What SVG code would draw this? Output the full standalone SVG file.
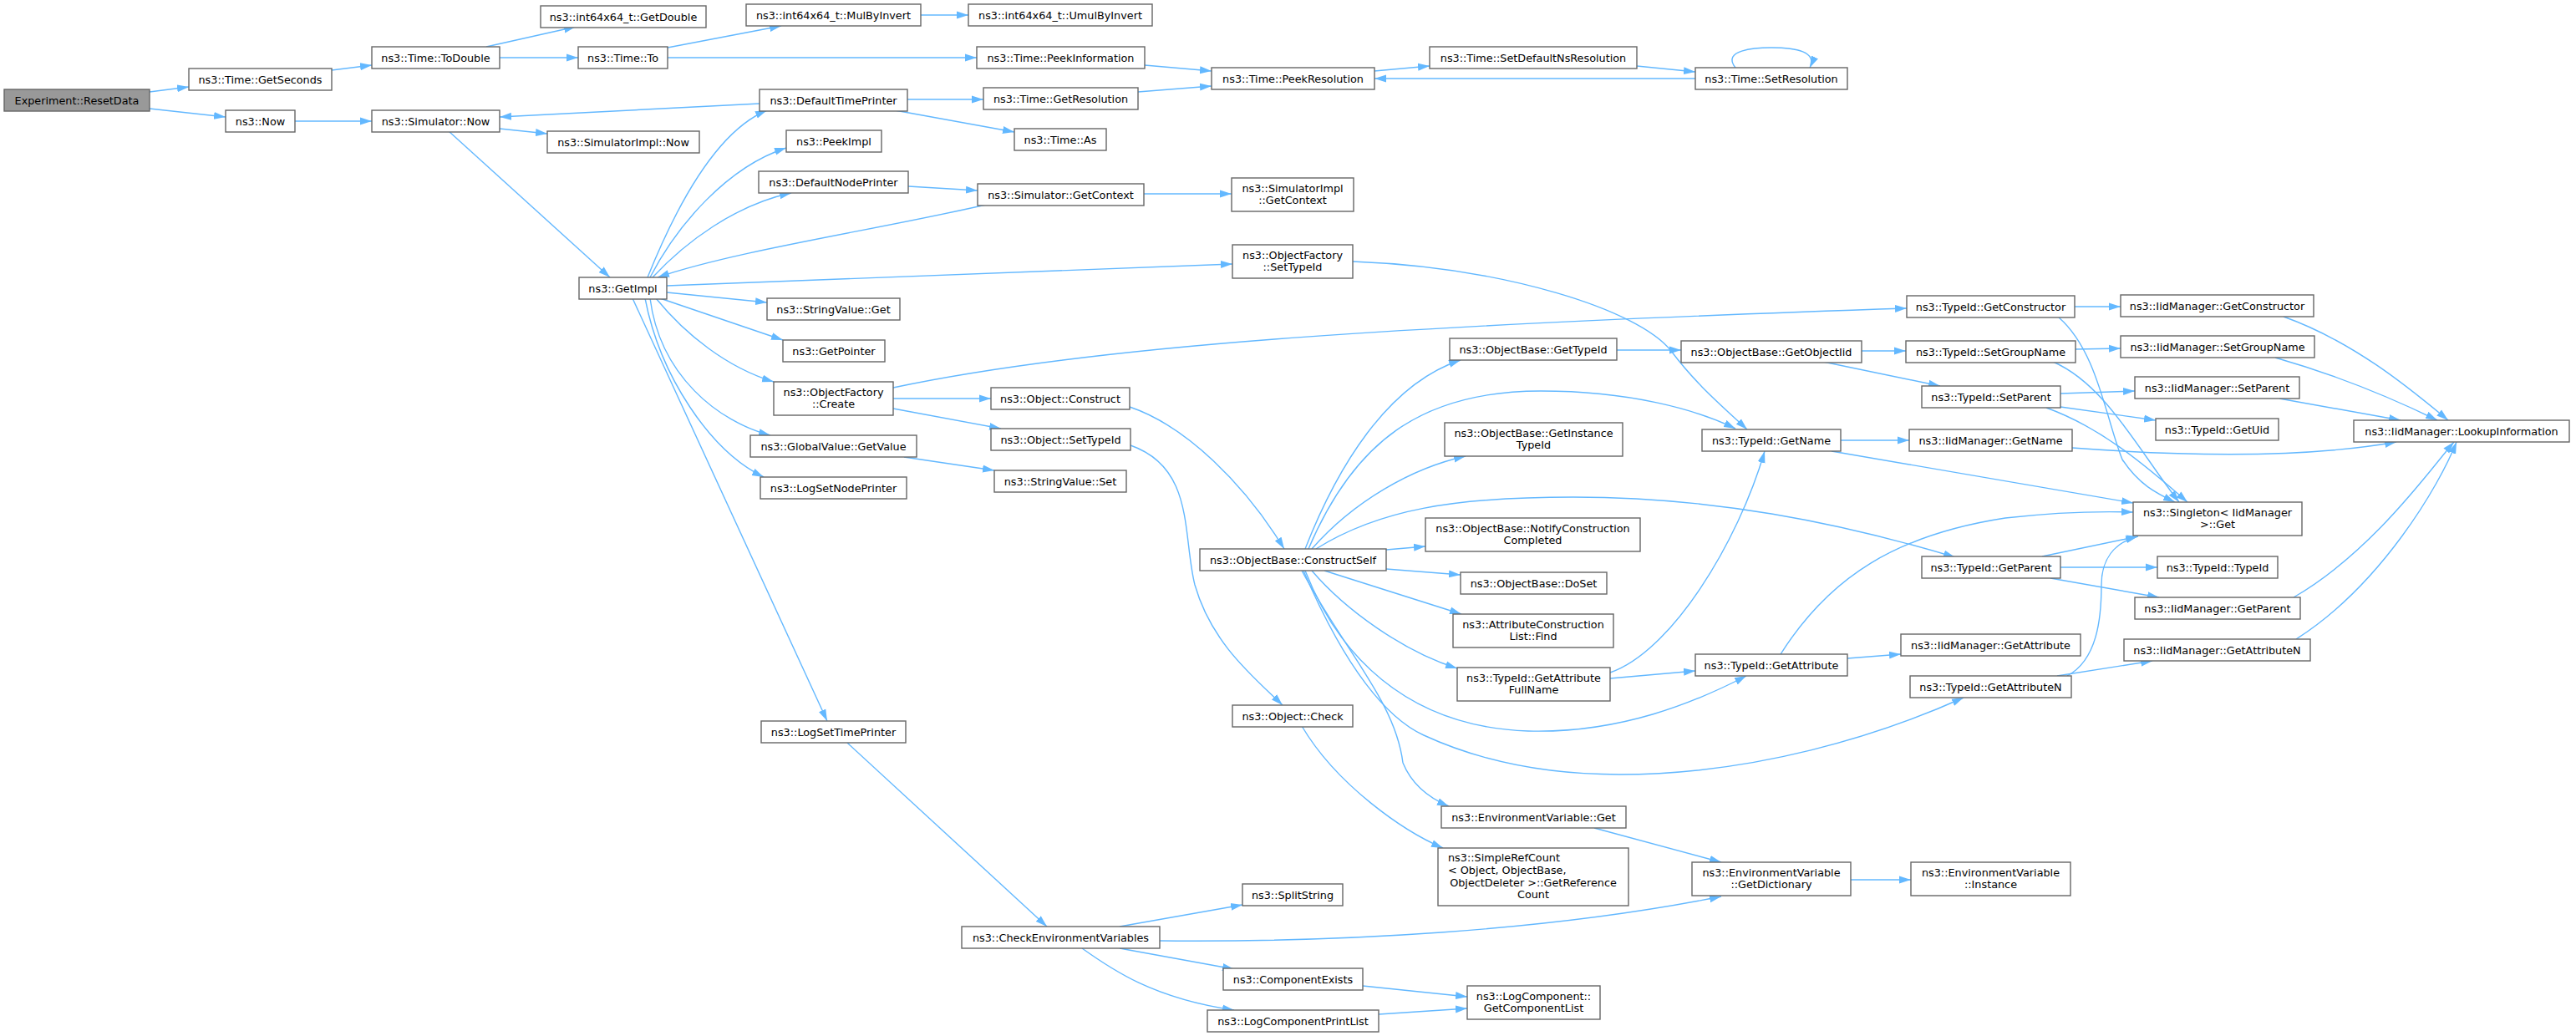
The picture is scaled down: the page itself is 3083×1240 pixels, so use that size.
<svg xmlns="http://www.w3.org/2000/svg" width="3083" height="1240" viewBox="0 0 3083 1240">
<style>
.n rect{fill:#ffffff;stroke:#666666;stroke-width:1.4}
.root rect{fill:#999999}
text{font-family:"DejaVu Sans","Liberation Sans",sans-serif;font-size:12.8px;fill:#000000;text-anchor:middle}
text.l{text-anchor:start}
.e path{fill:none;stroke:#63b8ff;stroke-width:1.4;marker-end:url(#a)}
</style>
<defs>
<marker id="a" markerWidth="14" markerHeight="10" refX="14" refY="5" orient="auto" markerUnits="userSpaceOnUse"><path d="M0,0.5 L14,5 L0,9.5 z" fill="#63b8ff"/></marker>
</defs>
<rect width="3083" height="1240" fill="#ffffff"/>
<g id="edges" class="e">
<path d="M179,110 L226,104"/>
<path d="M179,130 L270,140"/>
<path d="M397,84 L445,78"/>
<path d="M582,56 L689,32"/>
<path d="M598,69 L692,69"/>
<path d="M353,145 L445,145"/>
<path d="M598,154 L655,160"/>
<path d="M537,157 L730,332"/>
<path d="M909,124 L598,140"/>
<path d="M799,57 L935,31"/>
<path d="M799,69 L1169,69"/>
<path d="M1102,18 L1159,18"/>
<path d="M1370,78 L1450,85"/>
<path d="M1362,110 L1450,103"/>
<path d="M1086,119 L1177,119"/>
<path d="M1071,132 L1214,158"/>
<path d="M775,332 C800,270 850,160 918,132"/>
<path d="M778,332 C810,270 870,200 941,177"/>
<path d="M781,332 C820,290 880,245 947,231"/>
<path d="M1180,245 C1050,275 880,300 787,332"/>
<path d="M1087,223 L1170,228"/>
<path d="M1369,232 L1474,232"/>
<path d="M798,342 L1475,316"/>
<path d="M798,350 L918,362"/>
<path d="M790,357 L937,407"/>
<path d="M785,357 C820,400 870,440 926,457"/>
<path d="M778,357 C790,450 860,505 922,521"/>
<path d="M772,357 C790,450 850,540 914,571"/>
<path d="M757,357 L990,863"/>
<path d="M1069,464 C1300,415 1650,390 2282,369"/>
<path d="M1069,477 L1186,477"/>
<path d="M1069,489 L1198,513"/>
<path d="M1082,547 L1190,563"/>
<path d="M1352,487 C1420,510 1490,580 1537,657"/>
<path d="M1353,533 C1430,560 1415,640 1430,700 C1450,770 1500,810 1535,844"/>
<path d="M1619,313 C1800,320 1960,370 2000,420 C2030,460 2060,485 2091,514"/>
<path d="M1562,657 C1600,560 1660,460 1748,431"/>
<path d="M1566,657 C1620,530 1700,468 1844,468 C1950,468 2030,490 2077,513"/>
<path d="M1570,657 C1620,600 1690,560 1754,546"/>
<path d="M1575,657 C1650,610 1740,595 1883,595 C2050,595 2200,625 2340,667"/>
<path d="M1659,658 L1706,654"/>
<path d="M1659,681 L1748,688"/>
<path d="M1585,683 L1749,735"/>
<path d="M1570,683 C1610,730 1680,780 1744,800"/>
<path d="M1562,683 C1600,780 1680,870 1829,875 C1940,878 2030,840 2090,809"/>
<path d="M1560,683 C1610,800 1660,860 1704,880 C1780,915 1860,927 1938,927 C2100,927 2250,880 2350,835"/>
<path d="M1558,683 C1610,780 1670,840 1679,913 C1690,940 1710,955 1734,965"/>
<path d="M1927,805 C2000,780 2080,650 2112,540"/>
<path d="M1927,812 L2029,803"/>
<path d="M1558,869 C1600,940 1680,995 1727,1015"/>
<path d="M1908,991 L2060,1032"/>
<path d="M1388,1126 C1600,1128 1850,1115 2060,1073"/>
<path d="M2215,1053 L2287,1053"/>
<path d="M1014,889 L1253,1109"/>
<path d="M1340,1109 L1487,1083"/>
<path d="M1340,1135 L1477,1160"/>
<path d="M1295,1135 C1330,1160 1380,1195 1477,1209"/>
<path d="M1631,1180 L1756,1193"/>
<path d="M1650,1214 L1756,1207"/>
<path d="M1935,419 L2012,419"/>
<path d="M2228,420 L2281,420"/>
<path d="M2182,433 L2322,462"/>
<path d="M2203,527 L2285,527"/>
<path d="M2192,540 L2553,602"/>
<path d="M2211,788 L2275,783"/>
<path d="M2131,783 C2190,690 2270,640 2400,620 C2470,612 2520,612 2553,613"/>
<path d="M2462,809 L2576,791"/>
<path d="M2474,809 C2510,790 2515,740 2515,700 C2515,670 2530,650 2558,642"/>
<path d="M2444,666 L2559,642"/>
<path d="M2466,679 L2582,679"/>
<path d="M2454,692 L2584,715"/>
<path d="M2484,418 L2538,417"/>
<path d="M2457,433 C2520,460 2560,540 2608,601"/>
<path d="M2466,471 L2555,468"/>
<path d="M2466,487 L2580,503"/>
<path d="M2449,488 C2510,510 2560,550 2618,601"/>
<path d="M2464,380 C2510,420 2520,500 2540,550 C2560,580 2580,590 2603,601"/>
<path d="M2483,367 L2538,367"/>
<path d="M2733,379 C2820,410 2890,470 2930,503"/>
<path d="M2723,428 C2800,450 2870,480 2917,503"/>
<path d="M2728,477 L2873,503"/>
<path d="M2480,536 C2600,545 2750,550 2868,529"/>
<path d="M2745,715 C2840,660 2910,560 2937,529"/>
<path d="M2748,765 C2850,700 2920,580 2940,529"/>
<path d="M1645,85 L1711,79"/>
<path d="M1959,79 L2029,86"/>
<path d="M2029,94 L1645,94"/>
<path d="M2077,81 C2060,60 2100,57 2120,57 C2150,57 2175,62 2166,81"/>
</g>
<g id="n0" class="n root"><rect x="5" y="107" width="174" height="26"/><text x="92" y="124.5">Experiment::ResetData</text></g>
<g id="n1" class="n"><rect x="226" y="82" width="171" height="26"/><text x="311.5" y="99.5">ns3::Time::GetSeconds</text></g>
<g id="n2" class="n"><rect x="445" y="56" width="153" height="26"/><text x="521.5" y="73.5">ns3::Time::ToDouble</text></g>
<g id="n3" class="n"><rect x="270" y="132" width="83" height="26"/><text x="311.5" y="149.5">ns3::Now</text></g>
<g id="n4" class="n"><rect x="445" y="132" width="153" height="26"/><text x="521.5" y="149.5">ns3::Simulator::Now</text></g>
<g id="n5" class="n"><rect x="647" y="7" width="198" height="26"/><text x="746" y="24.5">ns3::int64x64_t::GetDouble</text></g>
<g id="n6" class="n"><rect x="692" y="56" width="107" height="26"/><text x="745.5" y="73.5">ns3::Time::To</text></g>
<g id="n7" class="n"><rect x="655" y="157" width="182" height="26"/><text x="746" y="174.5">ns3::SimulatorImpl::Now</text></g>
<g id="n8" class="n"><rect x="693" y="332" width="105" height="26"/><text x="745.5" y="349.5">ns3::GetImpl</text></g>
<g id="n9" class="n"><rect x="893" y="5" width="209" height="26"/><text x="997.5" y="22.5">ns3::int64x64_t::MulByInvert</text></g>
<g id="n10" class="n"><rect x="1159" y="5" width="220" height="26"/><text x="1269" y="22.5">ns3::int64x64_t::UmulByInvert</text></g>
<g id="n11" class="n"><rect x="1169" y="56" width="201" height="26"/><text x="1269.5" y="73.5">ns3::Time::PeekInformation</text></g>
<g id="n12" class="n"><rect x="1450" y="81" width="195" height="26"/><text x="1547.5" y="98.5">ns3::Time::PeekResolution</text></g>
<g id="n13" class="n"><rect x="909" y="107" width="177" height="26"/><text x="997.5" y="124.5">ns3::DefaultTimePrinter</text></g>
<g id="n14" class="n"><rect x="1177" y="105" width="185" height="26"/><text x="1269.5" y="122.5">ns3::Time::GetResolution</text></g>
<g id="n15" class="n"><rect x="1214" y="154" width="110" height="26"/><text x="1269" y="171.5">ns3::Time::As</text></g>
<g id="n16" class="n"><rect x="941" y="156" width="114" height="26"/><text x="998" y="173.5">ns3::PeekImpl</text></g>
<g id="n17" class="n"><rect x="908" y="205" width="179" height="26"/><text x="997.5" y="222.5">ns3::DefaultNodePrinter</text></g>
<g id="n18" class="n"><rect x="1170" y="220" width="199" height="26"/><text x="1269.5" y="237.5">ns3::Simulator::GetContext</text></g>
<g id="n19" class="n"><rect x="1474" y="213" width="146" height="40"/><text x="1547" y="230">ns3::SimulatorImpl</text><text x="1547" y="244">::GetContext</text></g>
<g id="n20" class="n"><rect x="1475" y="293" width="144" height="40"/><text x="1547" y="310">ns3::ObjectFactory</text><text x="1547" y="324">::SetTypeId</text></g>
<g id="n21" class="n"><rect x="918" y="357" width="159" height="26"/><text x="997.5" y="374.5">ns3::StringValue::Get</text></g>
<g id="n22" class="n"><rect x="1711" y="56" width="248" height="26"/><text x="1835" y="73.5">ns3::Time::SetDefaultNsResolution</text></g>
<g id="n23" class="n"><rect x="2029" y="81" width="182" height="26"/><text x="2120" y="98.5">ns3::Time::SetResolution</text></g>
<g id="n24" class="n"><rect x="2282" y="354" width="201" height="26"/><text x="2382.5" y="371.5">ns3::TypeId::GetConstructor</text></g>
<g id="n25" class="n"><rect x="2538" y="353" width="231" height="26"/><text x="2653.5" y="370.5">ns3::IidManager::GetConstructor</text></g>
<g id="n26" class="n"><rect x="937" y="407" width="122" height="26"/><text x="998" y="424.5">ns3::GetPointer</text></g>
<g id="n27" class="n"><rect x="926" y="457" width="143" height="40"/><text x="997.5" y="474">ns3::ObjectFactory</text><text x="997.5" y="488">::Create</text></g>
<g id="n28" class="n"><rect x="1186" y="464" width="166" height="26"/><text x="1269" y="481.5">ns3::Object::Construct</text></g>
<g id="n29" class="n"><rect x="1186" y="513" width="167" height="26"/><text x="1269.5" y="530.5">ns3::Object::SetTypeId</text></g>
<g id="n30" class="n"><rect x="898" y="521" width="199" height="26"/><text x="997.5" y="538.5">ns3::GlobalValue::GetValue</text></g>
<g id="n31" class="n"><rect x="1190" y="563" width="158" height="26"/><text x="1269" y="580.5">ns3::StringValue::Set</text></g>
<g id="n32" class="n"><rect x="910" y="571" width="175" height="26"/><text x="997.5" y="588.5">ns3::LogSetNodePrinter</text></g>
<g id="n33" class="n"><rect x="1436" y="657" width="223" height="26"/><text x="1547.5" y="674.5">ns3::ObjectBase::ConstructSelf</text></g>
<g id="n34" class="n"><rect x="1735" y="405" width="200" height="26"/><text x="1835" y="422.5">ns3::ObjectBase::GetTypeId</text></g>
<g id="n35" class="n"><rect x="2012" y="408" width="216" height="26"/><text x="2120" y="425.5">ns3::ObjectBase::GetObjectIid</text></g>
<g id="n36" class="n"><rect x="2281" y="408" width="203" height="26"/><text x="2382.5" y="425.5">ns3::TypeId::SetGroupName</text></g>
<g id="n37" class="n"><rect x="2300" y="462" width="166" height="26"/><text x="2383" y="479.5">ns3::TypeId::SetParent</text></g>
<g id="n38" class="n"><rect x="1729" y="506" width="213" height="40"/><text x="1835.5" y="523">ns3::ObjectBase::GetInstance</text><text x="1835.5" y="537">TypeId</text></g>
<g id="n39" class="n"><rect x="2037" y="514" width="166" height="26"/><text x="2120" y="531.5">ns3::TypeId::GetName</text></g>
<g id="n40" class="n"><rect x="2285" y="514" width="195" height="26"/><text x="2382.5" y="531.5">ns3::IidManager::GetName</text></g>
<g id="n41" class="n"><rect x="1706" y="620" width="257" height="40"/><text x="1834.5" y="637">ns3::ObjectBase::NotifyConstruction</text><text x="1834.5" y="651">Completed</text></g>
<g id="n42" class="n"><rect x="2300" y="666" width="166" height="26"/><text x="2383" y="683.5">ns3::TypeId::GetParent</text></g>
<g id="n43" class="n"><rect x="1748" y="685" width="175" height="26"/><text x="1835.5" y="702.5">ns3::ObjectBase::DoSet</text></g>
<g id="n44" class="n"><rect x="1739" y="735" width="192" height="40"/><text x="1835" y="752">ns3::AttributeConstruction</text><text x="1835" y="766">List::Find</text></g>
<g id="n45" class="n"><rect x="2275" y="759" width="215" height="26"/><text x="2382.5" y="776.5">ns3::IidManager::GetAttribute</text></g>
<g id="n46" class="n"><rect x="2029" y="783" width="182" height="26"/><text x="2120" y="800.5">ns3::TypeId::GetAttribute</text></g>
<g id="n47" class="n"><rect x="1744" y="799" width="183" height="40"/><text x="1835.5" y="816">ns3::TypeId::GetAttribute</text><text x="1835.5" y="830">FullName</text></g>
<g id="n48" class="n"><rect x="2286" y="809" width="193" height="26"/><text x="2382.5" y="826.5">ns3::TypeId::GetAttributeN</text></g>
<g id="n49" class="n"><rect x="2538" y="402" width="232" height="26"/><text x="2654" y="419.5">ns3::IidManager::SetGroupName</text></g>
<g id="n50" class="n"><rect x="2555" y="451" width="197" height="26"/><text x="2653.5" y="468.5">ns3::IidManager::SetParent</text></g>
<g id="n51" class="n"><rect x="2580" y="501" width="147" height="26"/><text x="2653.5" y="518.5">ns3::TypeId::GetUid</text></g>
<g id="n52" class="n"><rect x="2817" y="503" width="258" height="26"/><text x="2946" y="520.5">ns3::IidManager::LookupInformation</text></g>
<g id="n53" class="n"><rect x="2553" y="601" width="202" height="40"/><text x="2654" y="618">ns3::Singleton&lt; IidManager</text><text x="2654" y="632">&gt;::Get</text></g>
<g id="n54" class="n"><rect x="2582" y="666" width="144" height="26"/><text x="2654" y="683.5">ns3::TypeId::TypeId</text></g>
<g id="n55" class="n"><rect x="2555" y="715" width="198" height="26"/><text x="2654" y="732.5">ns3::IidManager::GetParent</text></g>
<g id="n56" class="n"><rect x="2542" y="765" width="223" height="26"/><text x="2653.5" y="782.5">ns3::IidManager::GetAttributeN</text></g>
<g id="n57" class="n"><rect x="1475" y="844" width="144" height="26"/><text x="1547" y="861.5">ns3::Object::Check</text></g>
<g id="n58" class="n"><rect x="911" y="863" width="173" height="26"/><text x="997.5" y="880.5">ns3::LogSetTimePrinter</text></g>
<g id="n59" class="n"><rect x="1487" y="1058" width="120" height="26"/><text x="1547" y="1075.5">ns3::SplitString</text></g>
<g id="n60" class="n"><rect x="1151" y="1109" width="237" height="26"/><text x="1269.5" y="1126.5">ns3::CheckEnvironmentVariables</text></g>
<g id="n61" class="n"><rect x="1464" y="1159" width="167" height="26"/><text x="1547.5" y="1176.5">ns3::ComponentExists</text></g>
<g id="n62" class="n"><rect x="1445" y="1209" width="205" height="26"/><text x="1547.5" y="1226.5">ns3::LogComponentPrintList</text></g>
<g id="n63" class="n"><rect x="1725" y="965" width="221" height="26"/><text x="1835.5" y="982.5">ns3::EnvironmentVariable::Get</text></g>
<g id="n64" class="n"><rect x="1721" y="1015" width="228" height="69"/><text class="l" x="1733" y="1031">ns3::SimpleRefCount</text><text class="l" x="1733" y="1046">&lt; Object, ObjectBase,</text><text x="1835" y="1061">ObjectDeleter &gt;::GetReference</text><text x="1835" y="1075">Count</text></g>
<g id="n65" class="n"><rect x="2025" y="1032" width="190" height="40"/><text x="2120" y="1049">ns3::EnvironmentVariable</text><text x="2120" y="1063">::GetDictionary</text></g>
<g id="n66" class="n"><rect x="2287" y="1032" width="191" height="40"/><text x="2382.5" y="1049">ns3::EnvironmentVariable</text><text x="2382.5" y="1063">::Instance</text></g>
<g id="n67" class="n"><rect x="1756" y="1180" width="159" height="40"/><text x="1835.5" y="1197">ns3::LogComponent::</text><text x="1835.5" y="1211">GetComponentList</text></g>
</svg>
